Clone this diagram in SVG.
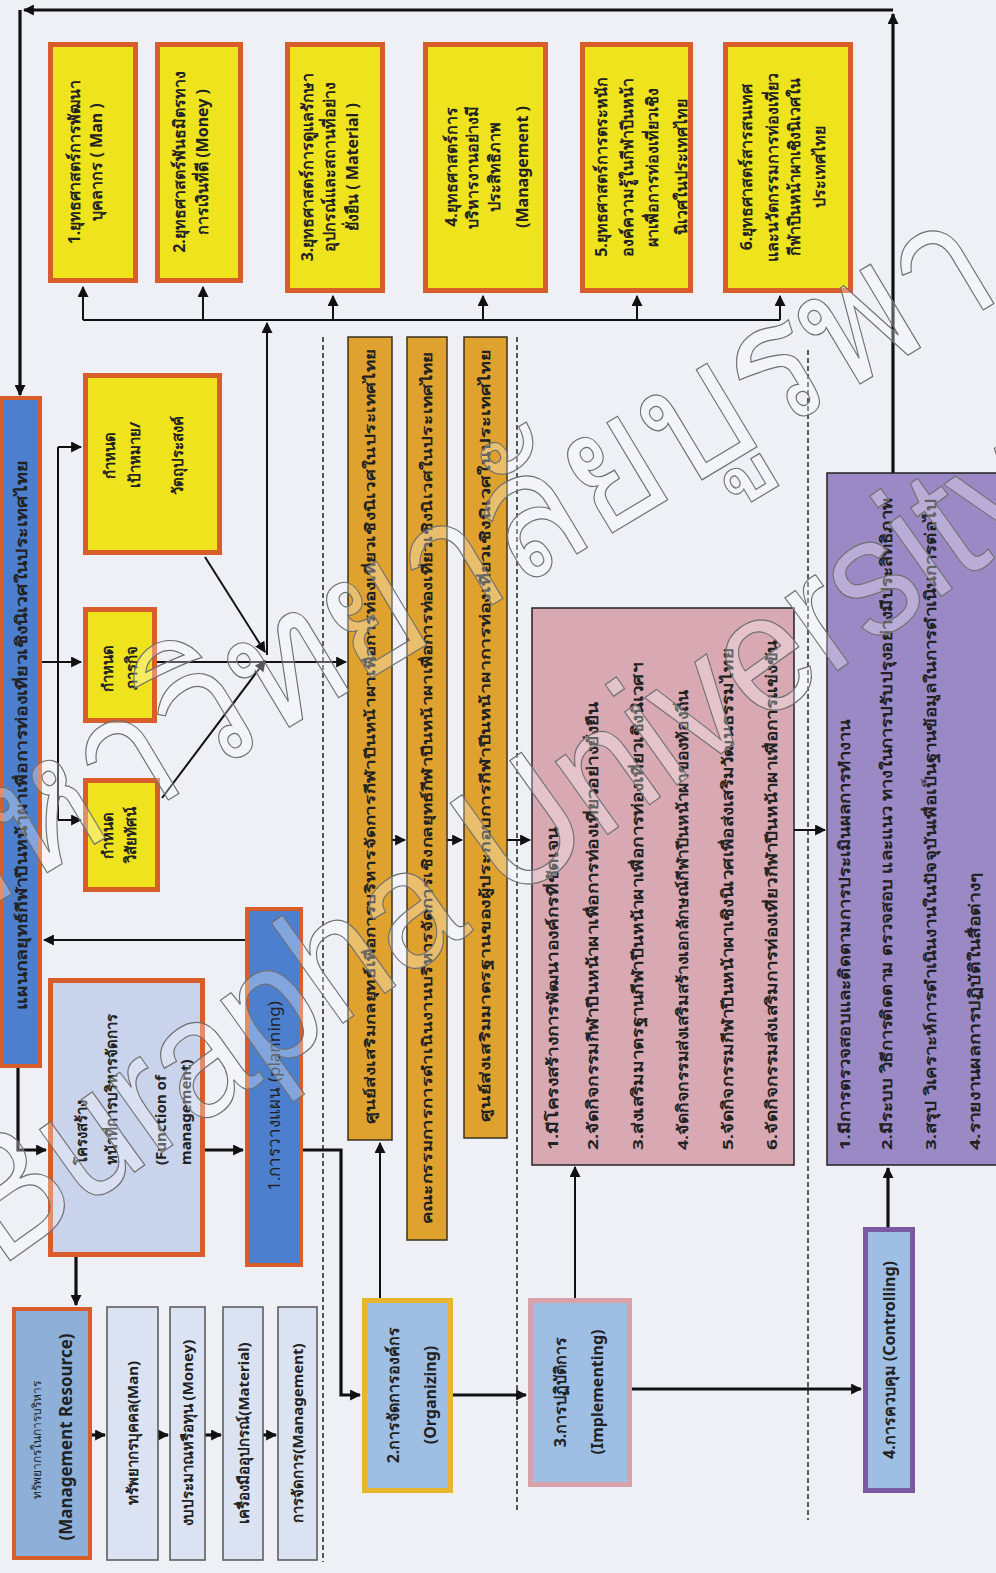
<svg xmlns="http://www.w3.org/2000/svg" width="996" height="1573" viewBox="0 0 996 1573">
<style>
text{font-family:'Noto Sans','Liberation Sans',sans-serif;fill:#222;}
.b{font-weight:bold}
.yb{fill:#efe31e;stroke:#d75e2a;stroke-width:5}
.bl{fill:#4d7fcf;stroke:#d75e2a;stroke-width:4}
.st{fill:#c9d3ec;stroke:#d75e2a;stroke-width:5}
.mr{fill:#8eafd8;stroke:#d75e2a;stroke-width:4}
.rs{fill:#dbe3f2;stroke:#555;stroke-width:1.5}
.or{fill:#e0a22f;stroke:#3a3020;stroke-width:1.5}
.pk{fill:#d9a9b3;stroke:#222;stroke-width:1.5}
.pu{fill:#9b89c6;stroke:#222;stroke-width:1.5}
.fn{fill:#9ebee4;stroke-width:5}
.c{fill:none;stroke:#111;stroke-width:2}
.k{fill:none;stroke:#111;stroke-width:3.2}
.d{fill:none;stroke:#333;stroke-width:1.6;stroke-dasharray:5 3}
.wm{fill:#ffffff;fill-opacity:0.3;stroke:#707070;stroke-width:1.2;font-family:'Liberation Sans',sans-serif}
</style>
<defs>
<marker id="a" viewBox="0 0 10 10" refX="9" refY="5" markerWidth="11" markerHeight="11" markerUnits="userSpaceOnUse" orient="auto"><path d="M0,0 L10,5 L0,10 z" fill="#111"/></marker>
</defs>
<rect x="0" y="0" width="996" height="1573" fill="#eef0f6"/>

<g id="dividers">
<path class="d" d="M323,337 V1562"/>
<path class="d" d="M517,337 V1513"/>
<path class="d" d="M808,350 V1520"/>
</g>

<g id="connectors">
<path class="k" d="M893,473 V14" marker-end="url(#a)"/>
<path class="k" d="M893,10 H24" marker-end="url(#a)"/>
<path class="k" d="M20,10 V395" marker-end="url(#a)"/>
<path class="c" d="M83,320 H780"/>
<path class="c" d="M83,320 V287" marker-end="url(#a)"/>
<path class="c" d="M203,320 V287" marker-end="url(#a)"/>
<path class="c" d="M333,320 V296" marker-end="url(#a)"/>
<path class="c" d="M483,320 V296" marker-end="url(#a)"/>
<path class="c" d="M637,320 V296" marker-end="url(#a)"/>
<path class="c" d="M780,320 V296" marker-end="url(#a)"/>
<path class="c" d="M267,655 V323" marker-end="url(#a)"/>
<path class="c" d="M58,447 V820"/>
<path class="c" d="M58,447 H81" marker-end="url(#a)"/>
<path class="c" d="M58,820 H81" marker-end="url(#a)"/>
<path class="c" d="M42,662 H81" marker-end="url(#a)"/>
<path class="c" d="M157,662 H346" marker-end="url(#a)"/>
<path class="c" d="M205,557 L265,652" marker-end="url(#a)"/>
<path class="c" d="M162,798 L265,661" marker-end="url(#a)"/>
<path class="c" d="M245,940 H44" marker-end="url(#a)"/>
<path class="k" d="M18,1067 V1150 H46" marker-end="url(#a)"/>
<path class="k" d="M76,1257 V1305" marker-end="url(#a)"/>
<path class="k" d="M205,1150 H243" marker-end="url(#a)"/>
<path class="k" d="M303,1150 H341 V1395 H360" marker-end="url(#a)"/>
<path class="c" d="M380,1298 V1143" marker-end="url(#a)"/>
<path class="c" d="M392,840 H405" marker-end="url(#a)"/>
<path class="c" d="M447,840 H462" marker-end="url(#a)"/>
<path class="c" d="M507,840 H530" marker-end="url(#a)"/>
<path class="c" d="M575,1298 V1167" marker-end="url(#a)"/>
<path class="k" d="M453,1395 H526" marker-end="url(#a)"/>
<path class="k" d="M632,1389 H861" marker-end="url(#a)"/>
<path class="k" d="M888,1227 V1168" marker-end="url(#a)"/>
<path class="c" d="M794,830 H825" marker-end="url(#a)"/>
<path class="k" d="M92,1435 H105" marker-end="url(#a)"/>
<path class="k" d="M158,1435 H168" marker-end="url(#a)"/>
<path class="k" d="M205,1435 H221" marker-end="url(#a)"/>
<path class="k" d="M263,1435 H276" marker-end="url(#a)"/>
</g>

<g id="plan">
<rect class="bl" x="2" y="398" width="38" height="668"/>
<text class="b" font-size="15" fill="#1a2a50" text-anchor="middle" textLength="550" lengthAdjust="spacingAndGlyphs" transform="translate(27,735) rotate(-90)">แผนกลยุทธ์กีฬาปีนหน้าผาเพื่อการท่องเที่ยวเชิงนิเวศในประเทศไทย</text>
</g>

<g id="s1">
<rect class="yb" x="50.5" y="44.5" width="85" height="236"/>
<g class="b" font-size="16" text-anchor="middle">
<text transform="translate(80,162) rotate(-90)">1.ยุทธศาสตร์การพัฒนา</text>
<text transform="translate(102,162) rotate(-90)">บุคลากร ( Man )</text>
</g>
</g>
<g id="s2">
<rect class="yb" x="157.5" y="44.5" width="83" height="236"/>
<g class="b" font-size="16" text-anchor="middle">
<text transform="translate(185,162) rotate(-90)">2.ยุทธศาสตร์พันธมิตรทาง</text>
<text transform="translate(208,162) rotate(-90)">การเงินที่ดี (Money )</text>
</g>
</g>
<g id="s3">
<rect class="yb" x="287.5" y="44.5" width="95" height="246"/>
<g class="b" font-size="16" text-anchor="middle">
<text transform="translate(313,167) rotate(-90)">3.ยุทธศาสตร์การดูแลรักษา</text>
<text transform="translate(335,167) rotate(-90)">อุปกรณ์และสถานที่อย่าง</text>
<text transform="translate(358,167) rotate(-90)">ยั่งยืน ( Material )</text>
</g>
</g>
<g id="s4">
<rect class="yb" x="425.5" y="44.5" width="120" height="246"/>
<g class="b" font-size="16" text-anchor="middle">
<text transform="translate(457,167) rotate(-90)">4.ยุทธศาสตร์การ</text>
<text transform="translate(478,167) rotate(-90)">บริหารงานอย่างมี</text>
<text transform="translate(500,167) rotate(-90)">ประสิทธิภาพ</text>
<text transform="translate(528,167) rotate(-90)">(Management )</text>
</g>
</g>
<g id="s5">
<rect class="yb" x="582.5" y="44.5" width="108" height="246"/>
<g class="b" font-size="16" text-anchor="middle">
<text transform="translate(607,167) rotate(-90)">5.ยุทธศาสตร์การตระหนัก</text>
<text transform="translate(633,167) rotate(-90)">องค์ความรู้ในกีฬาปีนหน้า</text>
<text transform="translate(658,167) rotate(-90)">ผาเพื่อการท่องเที่ยวเชิง</text>
<text transform="translate(687,167) rotate(-90)">นิเวศในประเทศไทย</text>
</g>
</g>
<g id="s6">
<rect class="yb" x="725.5" y="44.5" width="125" height="246"/>
<g class="b" font-size="16" text-anchor="middle">
<text transform="translate(752,167) rotate(-90)">6.ยุทธศาสตร์สารสนเทศ</text>
<text transform="translate(778,167) rotate(-90)">และนวัตกรรมการท่องเที่ยว</text>
<text transform="translate(800,167) rotate(-90)">กีฬาปีนหน้าผาเชิงนิเวศใน</text>
<text transform="translate(825,167) rotate(-90)">ประเทศไทย</text>
</g>
</g>

<g id="goal">
<rect class="yb" x="85.5" y="375.5" width="134" height="177"/>
<g class="b" font-size="15" text-anchor="middle">
<text transform="translate(115,455) rotate(-90)">กำหนด</text>
<text transform="translate(140,455) rotate(-90)">เป้าหมาย/</text>
<text transform="translate(183,455) rotate(-90)">วัตถุประสงค์</text>
</g>
</g>
<g id="mission">
<rect class="yb" x="85.5" y="609.5" width="69" height="111"/>
<g class="b" font-size="15" text-anchor="middle">
<text transform="translate(113,668) rotate(-90)">กำหนด</text>
<text transform="translate(137,668) rotate(-90)">ภารกิจ</text>
</g>
</g>
<g id="vision">
<rect class="yb" x="85.5" y="780.5" width="72" height="109"/>
<g class="b" font-size="15" text-anchor="middle">
<text transform="translate(113,835) rotate(-90)">กำหนด</text>
<text transform="translate(136,835) rotate(-90)">วิสัยทัศน์</text>
</g>
</g>

<g id="structure">
<rect class="st" x="50.5" y="980.5" width="152" height="274"/>
<g class="b" font-size="15">
<text transform="translate(87,1165) rotate(-90)">โครงสร้าง</text>
<text transform="translate(117,1165) rotate(-90)">หน้าที่การบริหารจัดการ</text>
<text transform="translate(166,1165) rotate(-90)">(Function of</text>
<text transform="translate(191,1165) rotate(-90)">management)</text>
</g>
</g>

<g id="planning">
<rect class="bl" x="247" y="909" width="54" height="356"/>
<text font-size="17" fill="#1f3a78" text-anchor="middle" transform="translate(280,1096) rotate(-90)">1.การวางแผน (planning)</text>
</g>

<g id="resource">
<rect class="mr" x="14" y="1309" width="76" height="249"/>
<text font-size="12" fill="#22386a" text-anchor="middle" transform="translate(41,1440) rotate(-90)">ทรัพยากรในการบริหาร</text>
<text class="b" font-size="17" fill="#1c2b58" text-anchor="middle" transform="translate(72,1437) rotate(-90)">(Management Resource)</text>
</g>
<g id="r-man">
<rect class="rs" x="107" y="1307" width="51" height="253"/>
<text class="b" font-size="15" text-anchor="middle" transform="translate(138,1433) rotate(-90)">ทรัพยากรบุคคล(Man)</text>
</g>
<g id="r-money">
<rect class="rs" x="170" y="1307" width="35" height="253"/>
<text class="b" font-size="15" text-anchor="middle" transform="translate(193,1433) rotate(-90)">งบประมาณหรือทุน (Money)</text>
</g>
<g id="r-material">
<rect class="rs" x="223" y="1307" width="40" height="253"/>
<text class="b" font-size="15" text-anchor="middle" transform="translate(249,1433) rotate(-90)">เครื่องมืออุปกรณ์(Material)</text>
</g>
<g id="r-management">
<rect class="rs" x="278" y="1307" width="39" height="253"/>
<text class="b" font-size="15" text-anchor="middle" transform="translate(303,1433) rotate(-90)">การจัดการ(Management)</text>
</g>

<g id="org1">
<rect class="or" x="348" y="337" width="44" height="803"/>
<text class="b" font-size="14" text-anchor="middle" textLength="775" lengthAdjust="spacingAndGlyphs" transform="translate(375,737) rotate(-90)">ศูนย์ส่งเสริมกลยุทธ์เพื่อการบริหารจัดการกีฬาปีนหน้าผาเพื่อการท่องเที่ยวเชิงนิเวศในประเทศไทย</text>
</g>
<g id="org2">
<rect class="or" x="407" y="337" width="40" height="903"/>
<text class="b" font-size="14" text-anchor="middle" textLength="872" lengthAdjust="spacingAndGlyphs" transform="translate(432,788) rotate(-90)">คณะกรรมการการดำเนินงานบริหารจัดการเชิงกลยุทธ์กีฬาปีนหน้าผาเพื่อการท่องเที่ยวเชิงนิเวศในประเทศไทย</text>
</g>
<g id="org3">
<rect class="or" x="464" y="337" width="43" height="801"/>
<text class="b" font-size="14" text-anchor="middle" textLength="772" lengthAdjust="spacingAndGlyphs" transform="translate(490,736) rotate(-90)">ศูนย์ส่งเสริมมาตรฐานของผู้ประกอบการกีฬาปีนหน้าผาการท่องเที่ยวเชิงนิเวศในประเทศไทย</text>
</g>

<g id="organizing">
<rect class="fn" stroke="#e6b62e" x="364.5" y="1300.5" width="86" height="190"/>
<g class="b" font-size="16" text-anchor="middle">
<text transform="translate(399,1395) rotate(-90)">2.การจัดการองค์กร</text>
<text transform="translate(436,1395) rotate(-90)">(Organizing)</text>
</g>
</g>

<g id="activities">
<rect class="pk" x="532" y="608" width="262" height="557"/>
<g class="b" font-size="15">
<text textLength="323" lengthAdjust="spacingAndGlyphs" transform="translate(558,1150) rotate(-90)">1.มีโครงสร้างการพัฒนาองค์กรที่ชัดเจน</text>
<text textLength="448" lengthAdjust="spacingAndGlyphs" transform="translate(598,1150) rotate(-90)">2.จัดกิจกรรมกีฬาปีนหน้าผาเพื่อการท่องเที่ยวอย่างยั่งยืน</text>
<text textLength="487" lengthAdjust="spacingAndGlyphs" transform="translate(643,1150) rotate(-90)">3.ส่งเสริมมาตรฐานกีฬาปีนหน้าผาเพื่อการท่องเที่ยวเชิงนิเวศฯ</text>
<text textLength="460" lengthAdjust="spacingAndGlyphs" transform="translate(688,1150) rotate(-90)">4.จัดกิจกรรมส่งเสริมสร้างเอกลักษณ์กีฬาปีนหน้าผาของท้องถิ่น</text>
<text textLength="502" lengthAdjust="spacingAndGlyphs" transform="translate(733,1150) rotate(-90)">5.จัดกิจกรรมกีฬาปีนหน้าผาเชิงนิเวศเพื่อส่งเสริมวัฒนธรรมไทย</text>
<text textLength="510" lengthAdjust="spacingAndGlyphs" transform="translate(777,1150) rotate(-90)">6.จัดกิจกรรมส่งเสริมการท่องเที่ยวกีฬาปีนหน้าผาเพื่อการแข่งขัน</text>
</g>
</g>

<g id="implementing">
<rect class="fn" stroke="#d7a2aa" x="530.5" y="1300.5" width="99" height="184"/>
<g class="b" font-size="16" text-anchor="middle">
<text transform="translate(566,1392) rotate(-90)">3.การปฏิบัติการ</text>
<text transform="translate(603,1392) rotate(-90)">(Implementing)</text>
</g>
</g>

<g id="evaluation">
<rect class="pu" x="827" y="473" width="170" height="692"/>
<g class="b" font-size="15">
<text textLength="430" lengthAdjust="spacingAndGlyphs" transform="translate(850,1150) rotate(-90)">1.มีการตรวจสอบและติดตามการประเมินผลการทำงาน</text>
<text textLength="652" lengthAdjust="spacingAndGlyphs" transform="translate(892,1150) rotate(-90)">2.มีระบบ วิธีการติดตาม ตรวจสอบ และแนว ทางในการปรับปรุงอย่างมีประสิทธิภาพ</text>
<text textLength="652" lengthAdjust="spacingAndGlyphs" transform="translate(936,1150) rotate(-90)">3.สรุป วิเคราะห์การดำเนินงานในปัจจุบันเพื่อเป็นฐานข้อมูลในการดำเนินการต่อไป</text>
<text textLength="277" lengthAdjust="spacingAndGlyphs" transform="translate(980,1150) rotate(-90)">4.รายงานผลการปฏิบัติในสื่อต่างๆ</text>
</g>
</g>

<g id="controlling">
<rect class="fn" stroke="#7a58a4" x="865.5" y="1229.5" width="47" height="261"/>
<text class="b" font-size="16" text-anchor="middle" transform="translate(895,1360) rotate(-90)">4.การควบคุม (Controlling)</text>
</g>

<g id="watermark">
<text class="wm" font-size="170" textLength="1300" lengthAdjust="spacingAndGlyphs" transform="translate(0,1268) rotate(-35.5)">Burapha University</text>
<text class="wm" font-size="175" textLength="1250" lengthAdjust="spacingAndGlyphs" transform="translate(-65,940) rotate(-31)">มหาวิทยาลัยบูรพา</text>
</g>
</svg>
